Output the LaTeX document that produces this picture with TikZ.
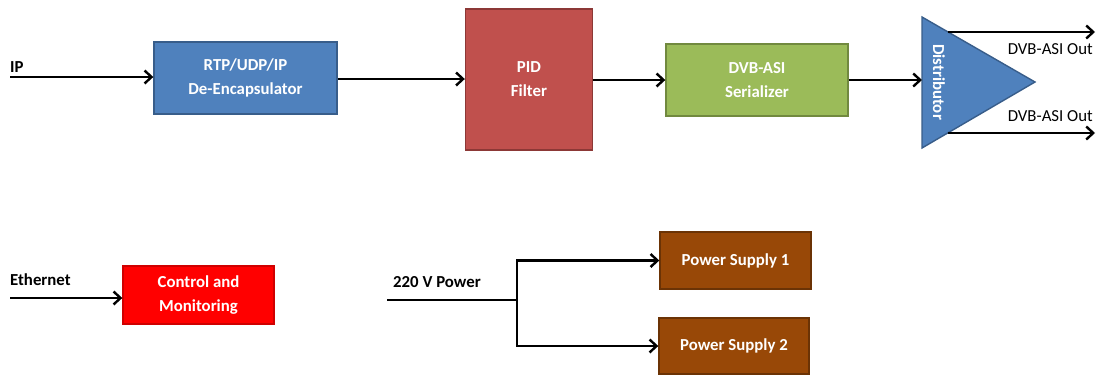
\documentclass[tikz,border=0pt]{standalone}
\usepackage{fontspec}
\setmainfont{Carlito}
\usetikzlibrary{arrows.meta}
\definecolor{bluef}{HTML}{4F81BD}\definecolor{blued}{HTML}{385D8A}
\definecolor{redf}{HTML}{C0504D}\definecolor{redd}{HTML}{8C3836}
\definecolor{greenf}{HTML}{9BBB59}\definecolor{greend}{HTML}{71893F}
\definecolor{brownf}{HTML}{984807}\definecolor{brownd}{HTML}{6B3305}
\definecolor{ctrlf}{HTML}{FF0000}\definecolor{ctrld}{HTML}{D00000}
\tikzset{
  blk/.style={draw=#1, line width=1.4pt, inner sep=0pt, text=white,
     font=\bfseries\fontsize{16.8}{24}\selectfont, align=center},
  conn/.style={line width=2.6pt, -{Straight Barb[length=7pt,width=13pt,line width=2.4pt]}},
  plain/.style={line width=2.6pt},
  lbl/.style={font=\bfseries\fontsize{16.8}{20}\selectfont, inner sep=0pt},
  outl/.style={font=\fontsize{16.8}{20}\selectfont, inner sep=0pt}
}
\begin{document}
\begin{tikzpicture}[x=1pt,y=-1pt]
\useasboundingbox (0,0) rectangle (1101,376);
% boxes
\node[blk=blued, fill=bluef, minimum width=183pt, minimum height=72pt] (rtp) at (245.5,78) {RTP/UDP/IP\\De-Encapsulator};
\node[blk=redd, fill=redf, minimum width=127pt, minimum height=141pt] (pid) at (529,79.5) {PID\\Filter};
\node[blk=greend, fill=greenf, minimum width=182pt, minimum height=72pt] (dvb) at (757,80) {DVB-ASI\\Serializer};
% distributor
\coordinate (dt) at (922,17);
\coordinate (db) at (922,148);
\coordinate (da) at (1035,82);
\draw[blued, fill=bluef, line width=1.4pt] (dt) -- (da) -- (db) -- cycle;
\node[lbl, text=white, rotate=-90] (dist) at (939,82) {Distributor};
\coordinate (din) at (922,80);
% inputs
\coordinate (ipst) at (10,77);
\node[lbl, anchor=base west] (iplbl) at (10,72) {IP};
\draw[conn] (ipst) -- (rtp.west |- ipst);
\draw[conn] (rtp.east |- 0,79) -- (pid.west |- 0,79);
\draw[conn] (pid.east |- 0,80) -- (dvb.west |- 0,80);
\draw[conn] (dvb.east |- din) -- (din);
% outputs
\coordinate (o1s) at (948,32);\coordinate (o1e) at (1095,32);
\coordinate (o2s) at (948,133);\coordinate (o2e) at (1095,133);
\draw[conn] (o1s) -- (o1e);
\draw[conn] (o2s) -- (o2e);
\node[outl, anchor=base east] (out1) at (1093,54) {DVB-ASI Out};
\node[outl, anchor=base east] (out2) at (1093,121) {DVB-ASI Out};
% bottom left
\node[blk=ctrld, fill=ctrlf, minimum width=151pt, minimum height=58pt] (ctrl) at (198.5,295) {Control and\\Monitoring};
\coordinate (ethst) at (10,298);
\node[lbl, anchor=base west] (ethlbl) at (10,285) {Ethernet};
\draw[conn] (ethst) -- (ctrl.west |- ethst);
% power
\node[blk=brownd, fill=brownf, minimum width=151pt, minimum height=57pt] (ps1) at (735.5,260.5) {Power Supply 1};
\node[blk=brownd, fill=brownf, minimum width=150pt, minimum height=56pt] (ps2) at (734,346) {Power Supply 2};
\coordinate (pwst) at (387,300);
\coordinate (br) at (517,300);
\node[lbl, anchor=base west] (pwlbl) at (393,287) {220 V Power};
\draw[plain] (pwst) -- (br);
\draw[conn] (br) -- (br |- ps1.west) -- (ps1.west);
\draw[conn] (br) -- (br |- ps2.west) -- (ps2.west);
\end{tikzpicture}
\end{document}
